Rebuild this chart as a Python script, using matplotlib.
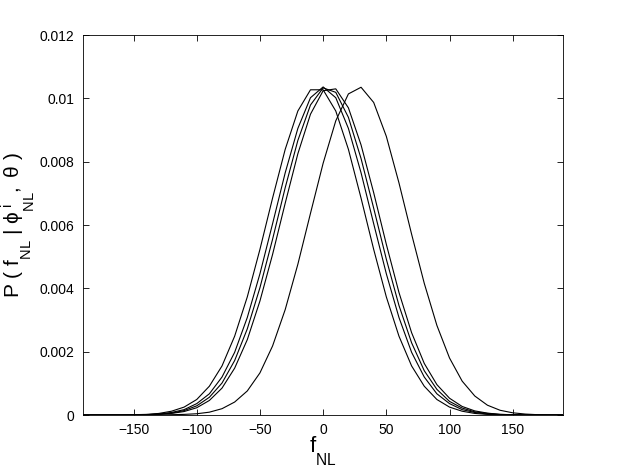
import numpy as np
import matplotlib
matplotlib.use("Agg")
import matplotlib.pyplot as plt
import matplotlib._mathtext as mtext

plt.rcParams['font.family'] = ['Liberation Sans', 'DejaVu Sans']
plt.rcParams['mathtext.fontset'] = 'custom'
plt.rcParams['mathtext.rm'] = 'Liberation Sans'
plt.rcParams['mathtext.it'] = 'Liberation Sans:italic'
plt.rcParams['axes.unicode_minus'] = True

# MATLAB style subscripts sit lower than mathtext's default
mtext.FontConstantsBase.sub1 = 1.1
mtext.FontConstantsBase.sub2 = 1.3

# f_NL grid (step 10)
f_nl = np.arange(-190, 191, 10)

# posterior curves (one per list)
p_a = [0, 0, 0, 0, 0.00001, 0.00002, 0.00005, 0.00012, 0.00025, 0.00049,
       0.00091, 0.00155, 0.00249, 0.00373, 0.00523, 0.00685, 0.00839, 0.00960, 0.01027,
       0.01027, 0.00960, 0.00839, 0.00685, 0.00523, 0.00373, 0.00249, 0.00155, 0.00091,
       0.00049, 0.00025, 0.00012, 0.00005, 0.00002, 0.00001, 0, 0, 0, 0, 0]
p_b = [0, 0, 0, 0, 0.00001, 0.00001, 0.00003, 0.00008, 0.00017, 0.00036,
       0.00067, 0.00120, 0.00198, 0.00308, 0.00446, 0.00604, 0.00765, 0.00905, 0.01002,
       0.01036,
       0.01002, 0.00905, 0.00765, 0.00604, 0.00446, 0.00308, 0.00198, 0.00120, 0.00067,
       0.00036, 0.00017, 0.00008, 0.00003, 0.00001, 0.00001, 0, 0, 0, 0]
p_c = [0, 0, 0, 0, 0, 0.00001, 0.00003, 0.00006, 0.00014, 0.00029,
       0.00056, 0.00101, 0.00172, 0.00272, 0.00402, 0.00555, 0.00718, 0.00867, 0.00979,
       0.01033,
       0.01019, 0.00940, 0.00810, 0.00653, 0.00492, 0.00346, 0.00228, 0.00140, 0.00081,
       0.00043, 0.00022, 0.00010, 0.00005, 0.00002, 0.00001, 0, 0, 0, 0]
p_d = [0, 0, 0, 0, 0, 0.00001, 0.00002, 0.00005, 0.00011, 0.00023,
       0.00046, 0.00085, 0.00148, 0.00238, 0.00360, 0.00507, 0.00669, 0.00825, 0.00950,
       0.01024,
       0.01030, 0.00970, 0.00853, 0.00702, 0.00539, 0.00387, 0.00260, 0.00163, 0.00096,
       0.00053, 0.00027, 0.00013, 0.00006, 0.00002, 0.00001, 0, 0, 0, 0]
p_e = [0, 0, 0, 0, 0, 0, 0, 0.00001, 0.00002, 0.00004,
       0.00009, 0.00020, 0.00041, 0.00076, 0.00133, 0.00218, 0.00333, 0.00476, 0.00637,
       0.00795, 0.00929, 0.01014,
       0.01035, 0.00987, 0.00880, 0.00733, 0.00571, 0.00416, 0.00283, 0.00180, 0.00107,
       0.00060, 0.00031, 0.00015, 0.00007, 0.00003, 0.00001, 0, 0]

curves = [p_a, p_b, p_c, p_d, p_e]

x_ticks = [-150, -100, -50, 0, 50, 100, 150]
y_ticks = [0, 0.002, 0.004, 0.006, 0.008, 0.01, 0.012]
y_tick_labels = ['0', '0.002', '0.004', '0.006', '0.008', '0.01', '0.012']

fig = plt.figure(figsize=(6.22, 4.68), dpi=100)
ax = fig.add_axes([0.1334, 0.1132, 0.7722, 0.812])

for p in curves:
    ax.plot(f_nl, p, color='black', linewidth=0.8)

ax.set_xlim(-190, 190)
ax.set_ylim(0, 0.012)
ax.set_xticks(x_ticks)
ax.set_yticks(y_ticks)
ax.set_yticklabels(y_tick_labels)
ax.tick_params(direction='in', top=True, right=True, labelsize=10, length=4, width=0.6, pad=6)
for s in ax.spines.values():
    s.set_linewidth(0.6)

ax.set_xlabel(r'$\mathregular{f_{NL}}$', fontsize=16, labelpad=-2)
ax.set_ylabel(r'$\mathregular{P\ (\ f_{NL}\ |\ \phi^{\ i}_{NL},\ \theta\ )}$', fontsize=15, labelpad=2)

fig.savefig('out.png', dpi=100)
